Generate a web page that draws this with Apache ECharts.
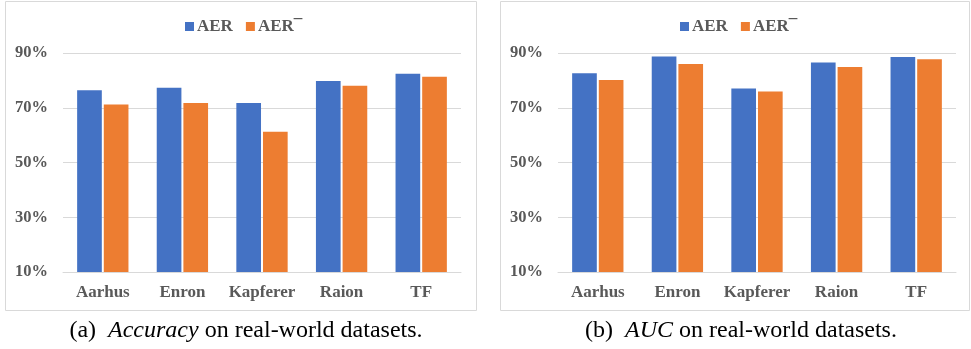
<!DOCTYPE html>
<html><head><meta charset="utf-8">
<script src="https://cdn.jsdelivr.net/npm/echarts@6/dist/echarts.min.js"></script>
<style>html,body{margin:0;padding:0;background:#fff}#c{width:971px;height:349px}</style>
</head><body><div id="c"></div>
<script>
const categories = ['Aarhus', 'Enron', 'Kapferer', 'Raion', 'TF'];
const seriesNames = ['AER', 'AER\u00AF'];
const accAER = [76.4, 77.3, 71.7, 79.8, 82.4];
const accAERminus = [71.2, 71.7, 61.2, 78.0, 81.3];
const aucAER = [82.6, 88.7, 77.0, 86.5, 88.5];
const aucAERminus = [80.1, 86.0, 75.9, 84.9, 87.7];
const yTicks = [10, 30, 50, 70, 90];

const colors = ['#4472C4', '#ED7D31'];
const serif = 'Liberation Serif';
const labelStyle = {fontFamily: serif, fontWeight: 'bold', color: '#595959'};

function yAxis(idx) {
  return {
    type: 'value', gridIndex: idx, min: yTicks[0], max: yTicks[yTicks.length - 1], interval: yTicks[1] - yTicks[0],
    axisLine: {show: false}, axisTick: {show: false},
    splitLine: {lineStyle: {color: '#d9d9d9', width: 1}},
    axisLabel: Object.assign({formatter: '{value}%', margin: 15, fontSize: 16.5}, labelStyle)
  };
}
function xAxis(idx) {
  return {
    type: 'category', gridIndex: idx, data: categories,
    axisLine: {lineStyle: {color: '#d9d9d9'}}, axisTick: {show: false},
    axisLabel: Object.assign({margin: 12, fontSize: 17, interval: 0, hideOverlap: false}, labelStyle)
  };
}
function bar(name, data, idx, ci) {
  return {
    type: 'bar', name: name, data: data, xAxisIndex: idx, yAxisIndex: idx,
    barWidth: '31%', barGap: '8%',
    itemStyle: {color: colors[ci]}
  };
}
const captionStyle = {fontFamily: serif, fontWeight: 'normal', fontSize: 24, color: '#000',
  rich: {i: {fontFamily: serif, fontStyle: 'italic', fontSize: 24, color: '#000'}}};
const chart = echarts.init(document.getElementById('c'));
chart.setOption({
  animation: false,
  color: colors,
  graphic: [
    {type: 'rect', shape: {x: 5.5, y: 1.5, width: 471, height: 309}, style: {fill: 'none', stroke: '#d9d9d9', lineWidth: 1}},
    {type: 'rect', shape: {x: 500.5, y: 1.5, width: 469, height: 309}, style: {fill: 'none', stroke: '#d9d9d9', lineWidth: 1}}
  ],
  title: [
    {text: '(a)  {i|Accuracy} on real-world datasets.', left: 241, top: 314, textAlign: 'center', textStyle: captionStyle},
    {text: '(b)  {i|AUC} on real-world datasets.', left: 736, top: 314, textAlign: 'center', textStyle: captionStyle}
  ],
  legend: [
    {data: seriesNames, left: 180, top: 13, icon: 'rect', itemWidth: 9, itemHeight: 9, itemGap: 13,
     textStyle: Object.assign({}, labelStyle, {fontSize: 17, padding: [0, 0, 0, -2]})},
    {data: seriesNames, left: 675, top: 13, icon: 'rect', itemWidth: 9, itemHeight: 9, itemGap: 13,
     textStyle: Object.assign({}, labelStyle, {fontSize: 17, padding: [0, 0, 0, -2]})}
  ],
  grid: [
    {left: 63, right: 510, top: 53, bottom: 77},
    {left: 558, right: 15, top: 53, bottom: 77}
  ],
  xAxis: [xAxis(0), xAxis(1)],
  yAxis: [yAxis(0), yAxis(1)],
  series: [
    bar(seriesNames[0], accAER, 0, 0),
    bar(seriesNames[1], accAERminus, 0, 1),
    bar(seriesNames[0], aucAER, 1, 0),
    bar(seriesNames[1], aucAERminus, 1, 1)
  ]
});
</script></body></html>
